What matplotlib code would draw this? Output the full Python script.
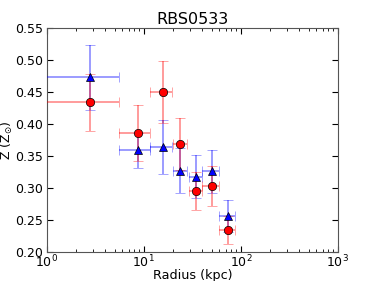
import numpy as np
import matplotlib
matplotlib.use('Agg')
from matplotlib import pyplot as plt

# radius bins (kpc) and half-widths
radius = [2.78, 8.6, 15.6, 23.7, 34.4, 50.0, 74.0]
radius_err = [2.74, 3.0, 4.0, 3.9, 5.5, 10.0, 14.0]

# blue triangles
z_blue = [0.473, 0.359, 0.364, 0.327, 0.318, 0.326, 0.256]
z_blue_err = [0.051, 0.027, 0.042, 0.035, 0.033, 0.034, 0.025]

# red circles
z_red = [0.434, 0.386, 0.450, 0.369, 0.295, 0.303, 0.235]
z_red_err = [0.045, 0.044, 0.048, 0.040, 0.030, 0.031, 0.022]

plt.rcParams['font.family'] = 'DejaVu Sans'
plt.rcParams['mathtext.fontset'] = 'dejavusans'

fig = plt.figure(figsize=(3.75, 2.81), dpi=100)
ax = fig.add_axes([0.125, 0.103, 0.776, 0.797])

ax.errorbar(radius, z_blue, xerr=radius_err, yerr=z_blue_err, fmt='^',
            color='blue', mec='black', mew=0.5, ms=6, ecolor='blue',
            elinewidth=1.1, capsize=3.5, capthick=1.1, zorder=3)
ax.errorbar(radius, z_red, xerr=radius_err, yerr=z_red_err, fmt='o',
            color='red', mec='black', mew=0.5, ms=6, ecolor='red',
            elinewidth=1.1, capsize=3.5, capthick=1.1, zorder=3)
for c in ax.collections:
    c.set_alpha(0.5)
for l in ax.lines:
    if l.get_marker() in ('|', '_'):
        l.set_alpha(0.5)

ax.set_xscale('log')
ax.set_xlim(1, 1000)
ax.set_ylim(0.20, 0.55)
ax.set_yticks(np.arange(0.20, 0.551, 0.05))
ax.yaxis.set_major_formatter(matplotlib.ticker.FormatStrFormatter('%.2f'))
ax.tick_params(which='both', direction='in', top=True, right=True,
               labelsize=9)
ax.tick_params(axis='y', pad=3)
ax.tick_params(axis='x', pad=1)
ax.tick_params(which='major', length=4)
ax.tick_params(which='minor', length=2)
for s in ax.spines.values():
    s.set_color('#555555')

ax.set_title('RBS0533', fontsize=11.5, pad=3)
ax.set_xlabel('Radius (kpc)', fontsize=9.2, labelpad=-1)
ax.set_ylabel(r'Z (Z$_{\odot}$)', fontsize=9, labelpad=0)

fig.savefig('out.png', dpi=100, facecolor='white')
